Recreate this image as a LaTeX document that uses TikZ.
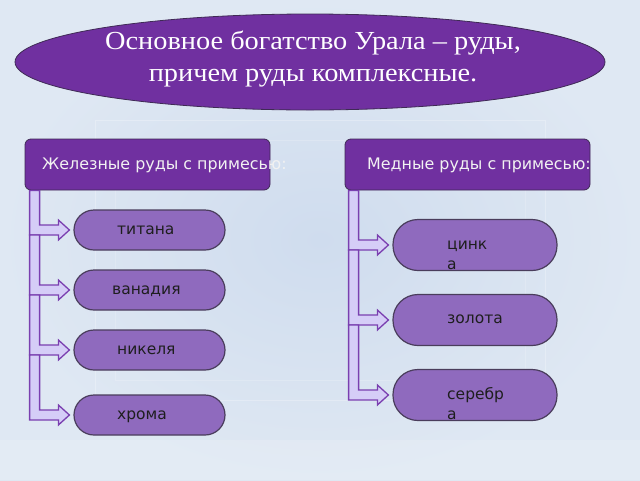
\documentclass[tikz,border=0pt]{standalone}
\usepackage{fontspec}
\setmainfont{Liberation Serif}
\setsansfont{DejaVu Sans}
\newfontfamily\topfont[FakeStretch=1.09]{Liberation Serif}
\usetikzlibrary{shapes.geometric,calc}
\definecolor{bgA}{HTML}{CFDCEE}
\definecolor{bgB}{HTML}{DFE8F3}
\definecolor{ovpurple}{HTML}{7030A0}
\definecolor{ovborder}{HTML}{3F2A55}
\definecolor{pillfill}{HTML}{8F6ABE}
\definecolor{pillborder}{HTML}{4A3D5C}
\definecolor{arrfill}{HTML}{D5CDF7}
\definecolor{arrline}{HTML}{7A3FB0}
\definecolor{pilltext}{HTML}{1E1E1E}
\tikzset{
  topoval/.style={ellipse, draw=ovborder, line width=0.8pt, fill=ovpurple, minimum width=590pt, minimum height=96pt, inner sep=0pt},
  toptext/.style={text=white, align=center, font=\topfont\fontsize{26}{32}\selectfont, inner sep=0pt},
  headbox/.style={rectangle, rounded corners=6pt, draw=ovborder, line width=0.8pt, fill=ovpurple, minimum width=245pt, minimum height=51pt, inner sep=0pt},
  headtext/.style={text=white!95!black, font=\sffamily\fontsize{15.9}{18}\selectfont, anchor=base west, inner sep=0pt},
  pillL/.style={rectangle, rounded corners=20pt, draw=pillborder, line width=1.2pt, fill=pillfill, minimum width=151pt, minimum height=40pt, inner sep=0pt},
  pillR/.style={rectangle, rounded corners=25pt, draw=pillborder, line width=1.2pt, fill=pillfill, minimum width=164pt, minimum height=51pt, inner sep=0pt},
  itemtext/.style={text=pilltext, font=\sffamily\fontsize{15.5}{20}\selectfont, anchor=base west, inner sep=0pt, align=left},
  conn/.style={draw=arrline, line width=1.3pt, fill=arrfill, line join=miter},
}
% bent arrow from band start #1 to node #2
\newcommand\bentarr[2]{%
  \draw[conn] (#1) -- ++(10,0) |- ($(#2.west)+(-15,-5)$) -- ++(0,-5)
     -- ($(#2.west)+(-4,0)$) -- ++(-11,10) -- ++(0,-5) -| (#1) -- cycle;}
\begin{document}
\begin{tikzpicture}[x=1pt,y=-1pt]
\useasboundingbox (0,0) rectangle (640,480);
\shade[inner color=bgA, outer color=bgB] (0,0) rectangle (640,480);
\draw[white, opacity=0.25, line width=1pt] (95,120) rectangle (545,400);
\draw[white, opacity=0.18, line width=1pt] (115,140) rectangle (525,380);
\fill[white, opacity=0.15] (0,440) rectangle (640,480);

% top ellipse
\node[topoval] (top) at (310,62) {};
\node[toptext] (toptxt) at (313,59) {Основное богатство Урала – руды,\\причем руды комплексные.};

% headers
\node[headbox] (h1) at (147.5,164.5) {};
\node[headbox] (h2) at (467.5,164.5) {};
\node[headtext] (h1t) at (42,169.5) {Железные руды с примесью:};
\node[headtext] (h2t) at (367,169.5) {Медные руды с примесью:};

% left pills
\node[pillL] (p1) at (149.5,230) {};
\node[pillL] (p2) at (149.5,290) {};
\node[pillL] (p3) at (149.5,350) {};
\node[pillL] (p4) at (149.5,415) {};
\node[itemtext] (p1t) at (117,234) {титана};
\node[itemtext] (p2t) at (112,294) {ванадия};
\node[itemtext] (p3t) at (117,354) {никеля};
\node[itemtext] (p4t) at (117,419.5) {хрома};

% right pills
\node[pillR] (q1) at (475,245) {};
\node[pillR] (q2) at (475,320) {};
\node[pillR] (q3) at (475,395) {};
\node[itemtext] (q1t) at (447,269.5) {цинк\\а};
\node[itemtext] (q2t) at (447,323.5) {золота};
\node[itemtext] (q3t) at (447,419.5) {серебр\\а};

% left connectors
\coordinate (L0) at ($(h1.south west)+(5,0)$);
\path (p1.west) ++(0,5) coordinate (p1b);
\path (p2.west) ++(0,5) coordinate (p2b);
\path (p3.west) ++(0,5) coordinate (p3b);
\coordinate (L1) at (L0 |- p1b);
\coordinate (L2) at (L0 |- p2b);
\coordinate (L3) at (L0 |- p3b);
\bentarr{L0}{p1}
\bentarr{L1}{p2}
\bentarr{L2}{p3}
\bentarr{L3}{p4}

% right connectors
\coordinate (R0) at ($(h2.south west)+(4,0)$);
\path (q1.west) ++(0,5) coordinate (q1b);
\path (q2.west) ++(0,5) coordinate (q2b);
\coordinate (R1) at (R0 |- q1b);
\coordinate (R2) at (R0 |- q2b);
\bentarr{R0}{q1}
\bentarr{R1}{q2}
\bentarr{R2}{q3}
\end{tikzpicture}
\end{document}
